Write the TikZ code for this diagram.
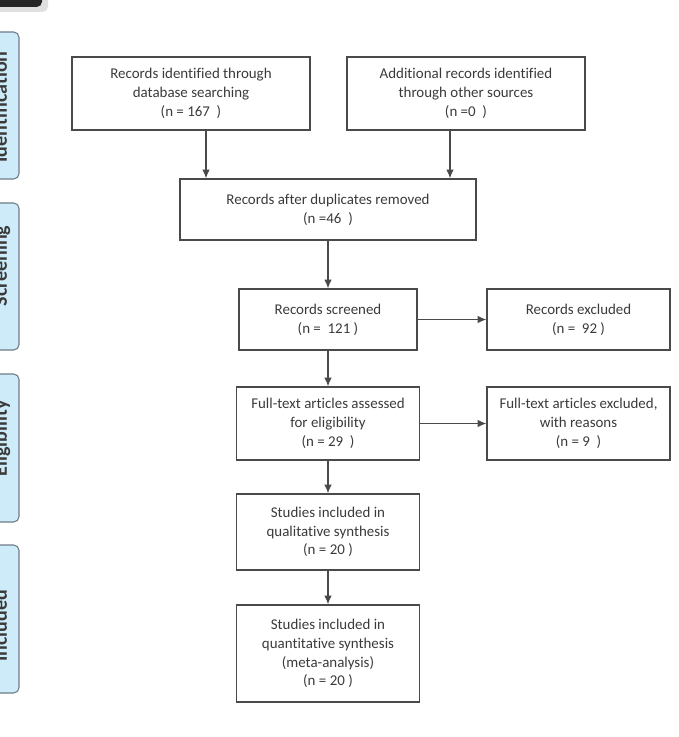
\documentclass[tikz,border=0pt]{standalone}
\usepackage{fontspec}
\setmainfont[Ligatures={NoCommon}]{Carlito}
\usetikzlibrary{arrows.meta}
\definecolor{txt}{HTML}{3A3A3A}
\definecolor{ln}{HTML}{4A4A4A}
\definecolor{sidefill}{HTML}{CDEBF8}
\definecolor{sideline}{HTML}{6E7C88}
\begin{document}
\begin{tikzpicture}[x=0.75pt,y=-0.75pt,
  box/.style={draw=ln, line width=0.9pt, align=center, text=txt, inner sep=2pt,
    font=\fontsize{11.2}{14.1}\selectfont},
  arr/.style={draw=ln, line width=0.9pt, -{Latex[length=6.5pt,width=5.5pt]}},
  side/.style={draw=sideline, fill=sidefill, line width=0.8pt, rounded corners=4pt,
    minimum width=29.25pt, inner sep=0pt},
  sidetext/.style={rotate=90, anchor=base, inner sep=0pt, text=txt,
    font=\fontsize{15}{18}\selectfont\bfseries}]
\useasboundingbox (0,0) rectangle (678,737);
\clip (0,0) rectangle (678,737);
% top-left fragment
\fill[black!12, rounded corners=4pt] (-10,-10) rectangle (48,12);
\fill[black!85, rounded corners=4pt] (-10,-10) rectangle (42,7);
% side labels
\node[side, minimum height=110.25pt] (L1) at (-0.5,105.5) {};
\node[side, minimum height=110.25pt] (L2) at (-0.5,276.5) {};
\node[side, minimum height=111pt] (L3) at (-0.5,448) {};
\node[side, minimum height=111pt] (L4) at (-0.5,619) {};
\node[sidetext] (T1) at (7,107) {Identification};
\node[sidetext] (T2) at (7,266) {Screening};
\node[sidetext] (T3) at (7,438.5) {Eligibility};
\node[sidetext] (T4) at (7,626) {Included};
% boxes
\node[box, minimum width=178.5pt, minimum height=54.75pt] (id1) at (191,93.5)
  {Records identified through\\database searching\\(n = 167~~)};
\node[box, minimum width=178.5pt, minimum height=54.75pt] (id2) at (466,93.5)
  {Additional records identified\\through other sources\\(n =0~~)};
\node[box, minimum width=222pt, minimum height=45.75pt] (dup) at (328,209.5)
  {Records after duplicates removed\\(n =46~~)};
\node[box, minimum width=133.5pt, minimum height=45.75pt] (scr) at (328,319.5)
  {Records screened\\(n =~~121 )};
\node[box, minimum width=137.25pt, minimum height=45.75pt] (exc) at (578.5,319.5)
  {Records excluded\\(n =~~92 )};
\node[box, minimum width=137.25pt, minimum height=54.75pt] (ft) at (328,423.5)
  {Full-text articles assessed\\for eligibility\\(n = 29~~)};
\node[box, minimum width=137.25pt, minimum height=54.75pt] (ftx) at (578.5,423.5)
  {Full-text articles excluded,\\with reasons\\(n = 9~~)};
\node[box, minimum width=137.25pt, minimum height=57pt] (qual) at (328,532)
  {Studies included in\\qualitative synthesis\\(n = 20 )};
\node[box, minimum width=137.25pt, minimum height=72.75pt] (quant) at (328,653.5)
  {Studies included in\\quantitative synthesis\\(meta-analysis)\\(n = 20 )};
% arrow columns
\coordinate (c1) at (206,0);
\coordinate (c2) at (450,0);
\draw[arr] (c1 |- id1.south) -- (c1 |- dup.north);
\draw[arr] (c2 |- id2.south) -- (c2 |- dup.north);
\draw[arr] (dup) -- (scr);
\draw[arr] (scr) -- (exc);
\draw[arr] (scr) -- (ft);
\draw[arr] (ft) -- (ftx);
\draw[arr] (ft) -- (qual);
\draw[arr] (qual) -- (quant);
\end{tikzpicture}
\end{document}
